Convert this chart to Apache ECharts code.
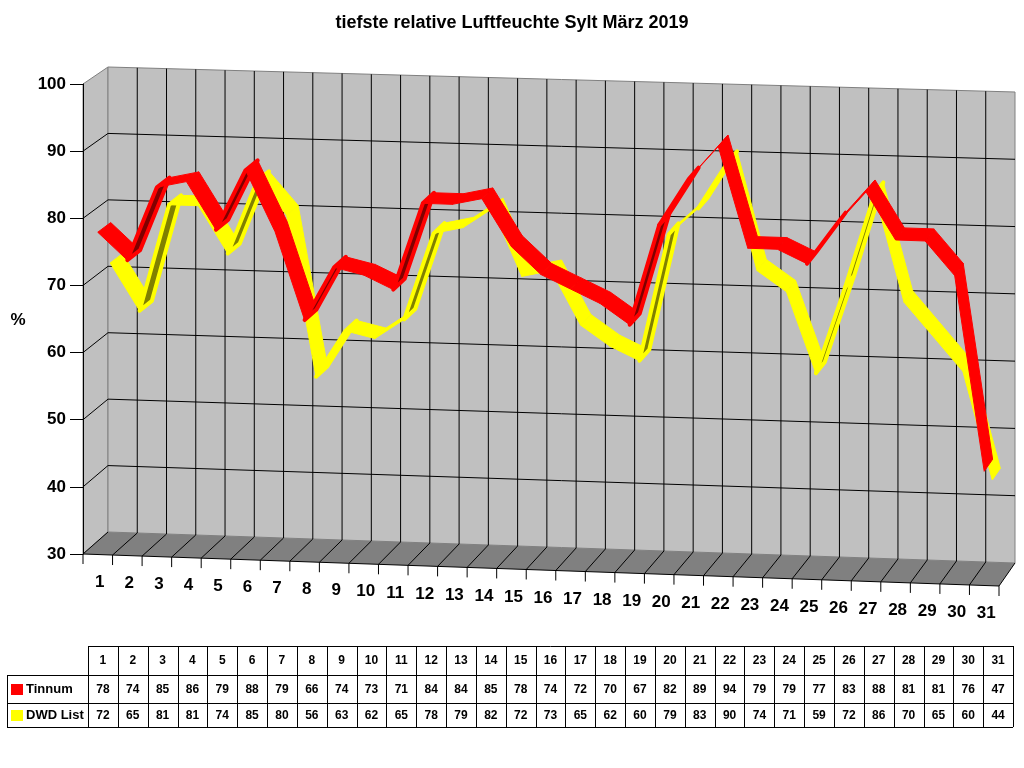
<!DOCTYPE html>
<html lang="de">
  <head>
    <meta charset="UTF-8" />
    <title>Luftfeuchte Sylt</title>
    <script src="https://cdn.jsdelivr.net/npm/echarts@6.0.0/dist/echarts.min.js"></script>
    <style>
      html, body { margin: 0; padding: 0; background: #fff; }
    </style>
  </head>
  <body>
    <div id="main" style="width: 1024px; height: 768px"></div>
    <script type="text/javascript">
      const days = ["1","2","3","4","5","6","7","8","9","10","11","12","13","14","15","16",
        "17","18","19","20","21","22","23","24","25","26","27","28","29","30","31"];
      const tinnum = [78,74,85,86,79,88,79,66,74,73,71,84,84,85,78,74,72,70,67,82,89,94,79,79,77,83,88,81,81,76,47];
      const dwdList = [72,65,81,81,74,85,80,56,63,62,65,78,79,82,72,73,65,62,60,79,83,90,74,71,59,72,86,70,65,60,44];
      const seriesNames = ["Tinnum", "DWD List"];
      const yMin = 30, yMax = 100, yStep = 10;

      const FONT = '"Liberation Sans", Arial, sans-serif';

      // fake 3D: front plane is the grid, back wall is shifted up/right
      function makeProj(api) {
        const o = api.coord([0, yMin]);
        const e = api.coord([days.length, yMax]);
        const W = e[0] - o[0], H = o[1] - e[1];
        return function (x, v, d) {
          const p = api.coord([x, v]);
          const u = (p[0] - o[0]) / W, t = (o[1] - p[1]) / H;
          const xf = p[0], yf = p[1] + 32 * u;
          const xb = o[0] + 25 + u * (W - 9);
          const yb = o[1] - 22 + 31 * u - t * (H - 5 + 6 * u);
          return [xf + (xb - xf) * d, yf + (yb - yf) * d];
        };
      }

      function line(a, b, color) {
        return { type: "line", shape: { x1: a[0], y1: a[1], x2: b[0], y2: b[1] },
          style: { stroke: color, lineWidth: 1 } };
      }

      function renderFrame(params, api) {
        const P = makeProj(api);
        const n = days.length;
        const kids = [];
        kids.push({ type: "polygon", shape: { points: [P(0, yMin, 0), P(0, yMin, 1), P(0, yMax, 1), P(0, yMax, 0)] },
          style: { fill: "#c0c0c0", stroke: "#808080", lineWidth: 1 } });
        kids.push({ type: "polygon", shape: { points: [P(0, yMin, 1), P(n, yMin, 1), P(n, yMax, 1), P(0, yMax, 1)] },
          style: { fill: "#c0c0c0", stroke: "#808080", lineWidth: 1 } });
        kids.push({ type: "polygon", shape: { points: [P(0, yMin, 0), P(n, yMin, 0), P(n, yMin, 1), P(0, yMin, 1)] },
          style: { fill: "#808080" } });
        for (let v = yMin + yStep; v < yMax; v += yStep) {
          kids.push(line(P(0, v, 0), P(0, v, 1), "#000"));
          kids.push(line(P(0, v, 1), P(n, v, 1), "#000"));
        }
        for (let k = 1; k < n; k++) {
          kids.push(line(P(k, yMin, 1), P(k, yMax, 1), "#000"));
        }
        for (let k = 0; k <= n; k++) {
          const f = P(k, yMin, 0);
          kids.push(line(f, P(k, yMin, 1), "#000"));
          kids.push(line(f, [f[0], f[1] + 10], "#000"));
        }
        kids.push(line(P(0, yMin, 0), P(n, yMin, 0), "#000"));
        days.forEach((d, i) => {
          const f = P(i + 0.5, yMin, 0);
          kids.push({ type: "text", x: f[0] + 2, y: f[1] + 28,
            style: { text: d, font: "bold 17px " + FONT, fill: "#000",
              textAlign: "center", align: "center", textVerticalAlign: "middle", verticalAlign: "middle" } });
        });
        return { type: "group", children: kids };
      }

      function ribbon(d0, d1, bright, dark) {
        return function (params, api) {
          const x0 = api.value(0), v0 = api.value(1), v1 = api.value(2);
          if (x0 + 1 > days.length) return null;
          const P = makeProj(api);
          const a0 = P(x0, v0, d0), b0 = P(x0 + 1, v1, d0);
          const b1 = P(x0 + 1, v1, d1), a1 = P(x0, v0, d1);
          const cross = (b0[0] - a0[0]) * (a1[1] - a0[1]) - (b0[1] - a0[1]) * (a1[0] - a0[0]);
          const under = cross > 0;
          return { type: "polygon", shape: { points: [a0, b0, b1, a1] },
            style: { fill: under ? dark : bright, stroke: bright, lineWidth: under ? 4 : 1, lineJoin: "round" } };
        };
      }

      const segData = (arr) => arr.slice(0, -1).map((v, i) => [i + 0.5, v, arr[i + 1]]);

      // data table under the chart
      const tbl = [];
      const colX = (k) => 88 + k * 29.84;
      const rowY = [646, 675, 703, 727];
      const tLine = (x1, y1, x2, y2) => ({ type: "line", shape: { x1, y1, x2, y2 },
        style: { stroke: "#000", lineWidth: 1 }, silent: true });
      tbl.push(tLine(colX(0), rowY[0] + 0.5, colX(31), rowY[0] + 0.5));
      for (let r = 1; r < 4; r++) tbl.push(tLine(7, rowY[r] + 0.5, colX(31), rowY[r] + 0.5));
      tbl.push(tLine(7.5, rowY[1], 7.5, rowY[3]));
      for (let k = 0; k <= 31; k++) {
        const x = Math.round(colX(k)) + 0.5;
        tbl.push(tLine(x, rowY[0], x, rowY[3]));
      }
      const cellText = (text, x, y, align, size) => ({ type: "text", x, y, silent: true,
        style: { text, font: "bold " + size + "px " + FONT, fill: "#000",
          textAlign: align, align, textVerticalAlign: "middle", verticalAlign: "middle" } });
      const rowMid = [660.5, 689.5, 715.5];
      days.forEach((d, k) => {
        const cx = colX(k) + 14.92;
        tbl.push(cellText(d, cx, rowMid[0], "center", 12));
        tbl.push(cellText(String(tinnum[k]), cx, rowMid[1], "center", 12));
        tbl.push(cellText(String(dwdList[k]), cx, rowMid[2], "center", 12));
      });
      tbl.push({ type: "rect", shape: { x: 11, y: 684, width: 12, height: 11 }, style: { fill: "#ff0000" } });
      tbl.push({ type: "rect", shape: { x: 11, y: 710, width: 12, height: 11 }, style: { fill: "#ffff00" } });
      tbl.push(cellText(seriesNames[0], 26, rowMid[1], "left", 13));
      tbl.push(cellText(seriesNames[1], 26, rowMid[2], "left", 13));
      tbl.push({ type: "text", x: 18, y: 320, style: { text: "%", font: "bold 17px " + FONT, fill: "#000",
        textAlign: "center", align: "center", textVerticalAlign: "middle", verticalAlign: "middle" } });

      const options = {
        animation: false,
        backgroundColor: "#fff",
        title: {
          text: "tiefste relative Luftfeuchte Sylt März 2019",
          left: "center", top: 9,
          textStyle: { fontFamily: FONT, fontSize: 18, fontWeight: "bold", color: "#000" },
        },
        grid: { left: 83, top: 84, width: 916, height: 470 },
        xAxis: { type: "value", min: 0, max: days.length, show: false },
        yAxis: {
          type: "value", min: yMin, max: yMax, interval: yStep,
          axisLine: { show: true, lineStyle: { color: "#000", width: 1 } },
          axisTick: { show: true, length: 13, lineStyle: { color: "#000" } },
          splitLine: { show: false },
          axisLabel: { margin: 17, color: "#000", fontFamily: FONT, fontSize: 17, fontWeight: "bold" },
          z: 5,
        },
        graphic: { elements: tbl },
        series: [
          { type: "custom", name: "frame", data: [[0, yMin]], renderItem: renderFrame, clip: false, silent: true, z: 1 },
          { type: "custom", name: seriesNames[1], data: segData(dwdList),
            renderItem: ribbon(0.5, 1.0, "#ffff00", "#808000"), clip: false, z: 2 },
          { type: "custom", name: seriesNames[0], data: segData(tinnum),
            renderItem: ribbon(0.0, 0.52, "#ff0000", "#800000"), clip: false, z: 3 },
        ],
      };

      const myChart = echarts.init(document.getElementById("main"));
      myChart.setOption(options);
    </script>
  </body>
</html>
